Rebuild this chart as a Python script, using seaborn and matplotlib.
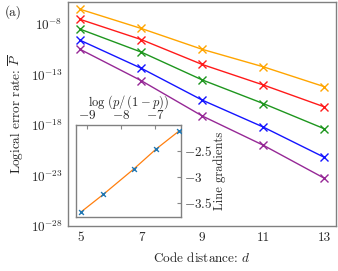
import numpy as np
import pandas as pd
import matplotlib
matplotlib.use("Agg")
import matplotlib.pyplot as plt
import seaborn as sns

# code distances and log10 of the logical error rate for each noise level
distances = [5, 7, 9, 11, 13]
series_names = ["p1", "p2", "p3", "p4", "p5"]
log10_rates = {
    "p1": [-6.53, -8.43, -10.50, -12.23, -14.20],
    "p2": [-7.53, -9.53, -12.00, -14.03, -16.20],
    "p3": [-8.50, -10.77, -13.53, -15.87, -18.37],
    "p4": [-9.60, -12.37, -15.53, -18.20, -21.20],
    "p5": [-10.50, -13.60, -17.10, -20.00, -23.27],
}
series_colors = ["#FFA500", "#FF1A1A", "#1E961E", "#1414FF", "#962896"]

# inset: gradient of each line vs log(p/(1-p))
log_odds = [-9.19, -8.53, -7.63, -6.98, -6.30]
gradients = [-3.68, -3.34, -2.85, -2.47, -2.12]

x_ticks = [5, 7, 9, 11, 13]
y_exps = [-28, -23, -18, -13, -8]
inset_x_ticks = [-9, -8, -7]
inset_y_ticks = [-3.5, -3, -2.5]
inset_y_labels = ["$-3.5$", "$-3$", "$-2.5$"]

sns.set_style("white")
plt.rcParams["font.family"] = "serif"
plt.rcParams["font.serif"] = ["cmr10", "DejaVu Serif"]
plt.rcParams["mathtext.fontset"] = "cm"
plt.rcParams["axes.unicode_minus"] = False

fig = plt.figure(figsize=(3.38, 2.71), dpi=100)
ax = fig.add_axes([0.201, 0.166, 0.793, 0.827])

for name, col in zip(series_names, series_colors):
    rates = [10.0 ** v for v in log10_rates[name]]
    sns.lineplot(x=distances, y=rates, color=col, marker="x", markersize=5.5,
                 markeredgewidth=1.0, markeredgecolor=col, linewidth=1.0, ax=ax)
ax.set_yscale("log")
ax.set_xlim(4.6, 13.38)
ax.set_ylim(1e-28, 10 ** -5.8)
ax.set_xticks(x_ticks)
ax.set_xticklabels([str(t) for t in x_ticks])
ax.set_yticks([10.0 ** e for e in y_exps])
ax.set_yticklabels([r"$10^{%d}$" % e for e in y_exps])
ax.minorticks_off()
ax.tick_params(direction="in", length=3.5, color="#888888", labelsize=9.5, pad=4)
for s in ax.spines.values():
    s.set_color("#808080")
    s.set_linewidth(1.0)
ax.set_xlabel("Code distance: $d$", fontsize=9.5, labelpad=5)
ax.set_ylabel(r"Logical error rate: $\overline{P}$", fontsize=9.5, labelpad=3)
fig.text(0.015, 0.955, "(a)", fontsize=9.5, va="center")

# inset
ins = fig.add_axes([0.225, 0.200, 0.311, 0.338])
sns.lineplot(x=log_odds, y=gradients, color="#FF7F0E", linewidth=0.9, ax=ins)
sns.scatterplot(x=log_odds, y=gradients, color="#1F77B4", marker="x", s=12,
                linewidth=1.0, ax=ins, zorder=3)
ins.set_xlim(-9.33, -6.24)
ins.set_ylim(-3.77, -2.01)
ins.set_xticks(inset_x_ticks)
ins.set_xticklabels([r"$%d$" % t for t in inset_x_ticks])
ins.set_yticks(inset_y_ticks)
ins.set_yticklabels(inset_y_labels)
ins.xaxis.tick_top()
ins.xaxis.set_label_position("top")
ins.yaxis.tick_right()
ins.yaxis.set_label_position("right")
ins.tick_params(direction="in", length=3, color="#888888", labelsize=9.5, pad=2)
for s in ins.spines.values():
    s.set_color("#808080")
    s.set_linewidth(1.0)
ins.set_xlabel(r"$\log\,(p/\,(1-p))$", fontsize=9, labelpad=3)
ins.set_ylabel("Line gradients", fontsize=9, labelpad=1)

fig.savefig("out.png", dpi=100)
